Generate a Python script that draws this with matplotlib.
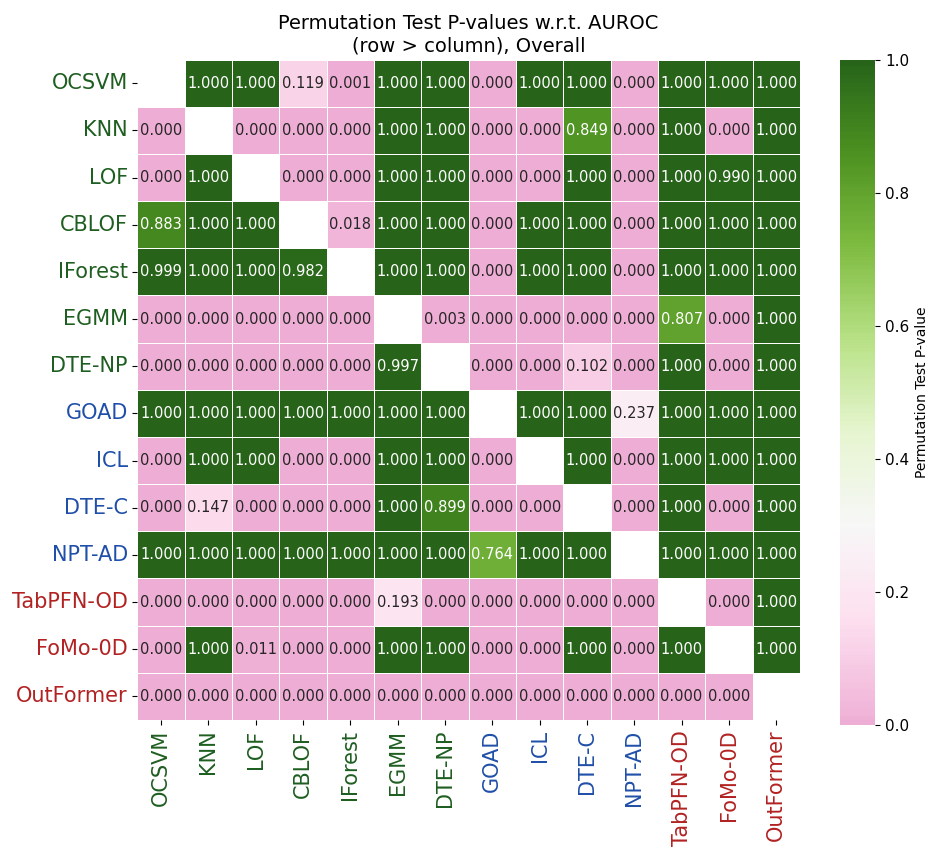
import numpy as np
import matplotlib
matplotlib.use("Agg")
import matplotlib.pyplot as plt
import seaborn as sns

methods = ["OCSVM", "KNN", "LOF", "CBLOF", "IForest", "EGMM", "DTE-NP",
           "GOAD", "ICL", "DTE-C", "NPT-AD", "TabPFN-OD", "FoMo-0D", "OutFormer"]
label_colors = ["#1e5e20"] * 7 + ["#1f4fa8"] * 4 + ["#b22222"] * 3

N = np.nan
pvals = [
    [N, 1.000, 1.000, 0.119, 0.001, 1.000, 1.000, 0.000, 1.000, 1.000, 0.000, 1.000, 1.000, 1.000],
    [0.000, N, 0.000, 0.000, 0.000, 1.000, 1.000, 0.000, 0.000, 0.849, 0.000, 1.000, 0.000, 1.000],
    [0.000, 1.000, N, 0.000, 0.000, 1.000, 1.000, 0.000, 0.000, 1.000, 0.000, 1.000, 0.990, 1.000],
    [0.883, 1.000, 1.000, N, 0.018, 1.000, 1.000, 0.000, 1.000, 1.000, 0.000, 1.000, 1.000, 1.000],
    [0.999, 1.000, 1.000, 0.982, N, 1.000, 1.000, 0.000, 1.000, 1.000, 0.000, 1.000, 1.000, 1.000],
    [0.000, 0.000, 0.000, 0.000, 0.000, N, 0.003, 0.000, 0.000, 0.000, 0.000, 0.807, 0.000, 1.000],
    [0.000, 0.000, 0.000, 0.000, 0.000, 0.997, N, 0.000, 0.000, 0.102, 0.000, 1.000, 0.000, 1.000],
    [1.000, 1.000, 1.000, 1.000, 1.000, 1.000, 1.000, N, 1.000, 1.000, 0.237, 1.000, 1.000, 1.000],
    [0.000, 1.000, 1.000, 0.000, 0.000, 1.000, 1.000, 0.000, N, 1.000, 0.000, 1.000, 1.000, 1.000],
    [0.000, 0.147, 0.000, 0.000, 0.000, 1.000, 0.899, 0.000, 0.000, N, 0.000, 1.000, 0.000, 1.000],
    [1.000, 1.000, 1.000, 1.000, 1.000, 1.000, 1.000, 0.764, 1.000, 1.000, N, 1.000, 1.000, 1.000],
    [0.000, 0.000, 0.000, 0.000, 0.000, 0.193, 0.000, 0.000, 0.000, 0.000, 0.000, N, 0.000, 1.000],
    [0.000, 1.000, 0.011, 0.000, 0.000, 1.000, 1.000, 0.000, 0.000, 1.000, 0.000, 1.000, N, 1.000],
    [0.000, 0.000, 0.000, 0.000, 0.000, 0.000, 0.000, 0.000, 0.000, 0.000, 0.000, 0.000, 0.000, N],
]
data = np.array(pvals, dtype=float)
mask = np.isnan(data)

fig = plt.figure(figsize=(9.29, 8.52), dpi=100)
ax = fig.add_axes([0.148, 0.155, 0.713, 0.775])
cax = fig.add_axes([0.904, 0.149, 0.038, 0.781])

sns.heatmap(data, mask=mask, cmap="PiYG", center=0.3, vmin=0, vmax=1,
            annot=True, fmt=".3f", annot_kws={"fontsize": 10.5},
            linewidths=0.5, linecolor="white", square=False,
            xticklabels=methods, yticklabels=methods, ax=ax, cbar_ax=cax,
            cbar_kws={"label": "Permutation Test P-value"})

ax.set_title("Permutation Test P-values w.r.t. AUROC\n(row > column), Overall", fontsize=14)
ax.tick_params(axis="both", labelsize=15)
plt.setp(ax.get_xticklabels(), rotation=90)
plt.setp(ax.get_yticklabels(), rotation=0)
for lbl, c in zip(ax.get_xticklabels(), label_colors):
    lbl.set_color(c)
for lbl, c in zip(ax.get_yticklabels(), label_colors):
    lbl.set_color(c)

cax.tick_params(labelsize=11)
cax.set_ylabel("Permutation Test P-value", fontsize=10)

fig.savefig("out.png", dpi=100)
